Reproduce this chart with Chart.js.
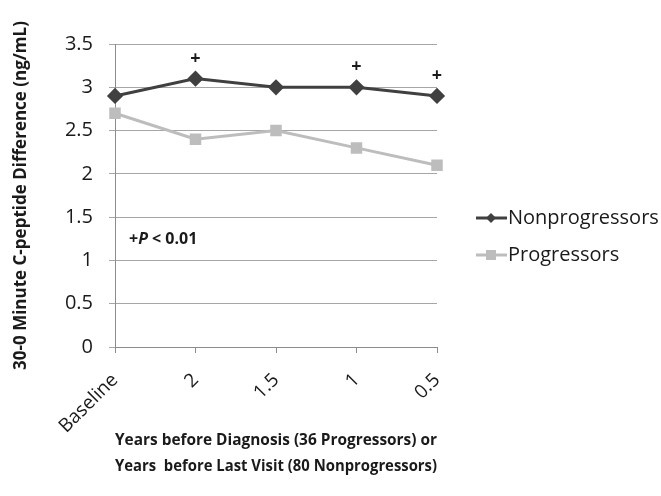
<!DOCTYPE html>
<html>
<head>
<meta charset="utf-8">
<script src="https://cdn.jsdelivr.net/npm/chart.js@4"></script>
<style>
  html, body { margin: 0; padding: 0; background: #fff; }
  #wrap { width: 661px; height: 496px; position: relative; }
</style>
</head>
<body>
<div id="wrap"><canvas id="chart"></canvas></div>
<script>
// data
var categories = ["Baseline", "2", "1.5", "1", "0.5"];
var nonprogressors = [2.9, 3.1, 3.0, 3.0, 2.9];
var progressors = [2.7, 2.4, 2.5, 2.3, 2.1];
var significant = [false, true, false, true, true]; // "+" marks over nonprogressors

var fontName = "'Open Sans', 'DejaVu Sans', sans-serif";

// draws the "+" marks, the P note and the legend on the right
var extras = {
  id: "extras",
  afterDraw: function (chart) {
    var ctx = chart.ctx;
    var x = chart.scales.x, y = chart.scales.y;
    ctx.save();
    ctx.fillStyle = "#1a1a1a";
    ctx.font = "bold 18px " + fontName;
    ctx.textAlign = "center";
    ctx.textBaseline = "middle";
    for (var i = 0; i < categories.length; i++) {
      if (significant[i]) {
        ctx.fillText("+", x.getPixelForValue(i), y.getPixelForValue(nonprogressors[i]) - 20);
      }
    }

    // P note
    ctx.textAlign = "left";
    ctx.font = "bold 16px " + fontName;
    var px = 129, py = 239;
    ctx.fillText("+", px, py);
    px += ctx.measureText("+").width;
    ctx.font = "italic bold 16px " + fontName;
    ctx.fillText("P", px, py);
    px += ctx.measureText("P").width;
    ctx.font = "bold 16px " + fontName;
    ctx.fillText(" < 0.01", px, py);

    // legend
    var items = chart.data.datasets;
    for (var k = 0; k < items.length; k++) {
      var ly = 218 + k * 37;
      var ds = items[k];
      ctx.strokeStyle = ds.borderColor;
      ctx.lineWidth = 3;
      ctx.beginPath();
      ctx.moveTo(476, ly);
      ctx.lineTo(507, ly);
      ctx.stroke();
      ctx.fillStyle = ds.pointBackgroundColor;
      ctx.beginPath();
      if (ds.pointStyle === "rectRot") {
        ctx.moveTo(491, ly - 5);
        ctx.lineTo(496, ly);
        ctx.lineTo(491, ly + 5);
        ctx.lineTo(486, ly);
      } else {
        ctx.rect(486, ly - 5, 10, 10);
      }
      ctx.fill();
      ctx.fillStyle = "#1a1a1a";
      ctx.font = "20px " + fontName;
      ctx.fillText(ds.label, 508, ly);
    }
    ctx.restore();
  }
};

var config = {
  type: "line",
  data: {
    labels: categories,
    datasets: [
      {
        label: "Nonprogressors",
        data: nonprogressors,
        borderColor: "#404040",
        pointBackgroundColor: "#404040",
        pointBorderColor: "#404040",
        pointStyle: "rectRot",
        pointRadius: 6,
        borderWidth: 3,
        tension: 0,
      },
      {
        label: "Progressors",
        data: progressors,
        borderColor: "#bdbdbd",
        pointBackgroundColor: "#bdbdbd",
        pointBorderColor: "#bdbdbd",
        pointStyle: "rect",
        pointRadius: 6,
        borderWidth: 3,
        tension: 0,
      },
    ],
  },
  options: {
    responsive: true,
    maintainAspectRatio: false,
    animation: false,
    layout: {
      padding: { left: 0, top: 44, right: 224, bottom: 0 },
    },
    plugins: {
      legend: { display: false },
      tooltip: { enabled: false },
    },
    scales: {
      x: {
        offset: false,
        grid: {
          drawOnChartArea: false,
          color: "#8c8c8c",
          tickLength: 6,
        },
        border: { color: "#8c8c8c", width: 1 },
        ticks: {
          minRotation: 45,
          maxRotation: 45,
          color: "#1a1a1a",
          font: { family: fontName, size: 19 },
          padding: 16,
        },
        title: {
          display: true,
          text: ["Years before Diagnosis (36 Progressors) or", "Years  before Last Visit (80 Nonprogressors)"],
          color: "#1a1a1a",
          font: { family: fontName, size: 15.5, weight: "bold", lineHeight: 1.65 },
          padding: { top: 0, bottom: 17 },
        },
        afterFit: function (scale) {
          scale.height = 149;
        },
      },
      y: {
        min: 0,
        max: 3.5,
        grid: {
          color: "#a6a6a6",
          tickLength: 6,
        },
        border: { color: "#8c8c8c", width: 1 },
        ticks: {
          stepSize: 0.5,
          color: "#1a1a1a",
          font: { family: fontName, size: 20 },
          padding: 16,
          callback: function (value) { return String(value); },
        },
        title: {
          display: true,
          text: "30-0 Minute C-peptide Difference (ng/mL)",
          color: "#1a1a1a",
          font: { family: fontName, size: 17, weight: "bold" },
          padding: { top: 11, bottom: 0 },
        },
        afterFit: function (scale) {
          scale.width = 115;
        },
      },
    },
  },
  plugins: [extras],
};

var chart = new Chart(document.getElementById("chart").getContext("2d"), config);
</script>
</body>
</html>
